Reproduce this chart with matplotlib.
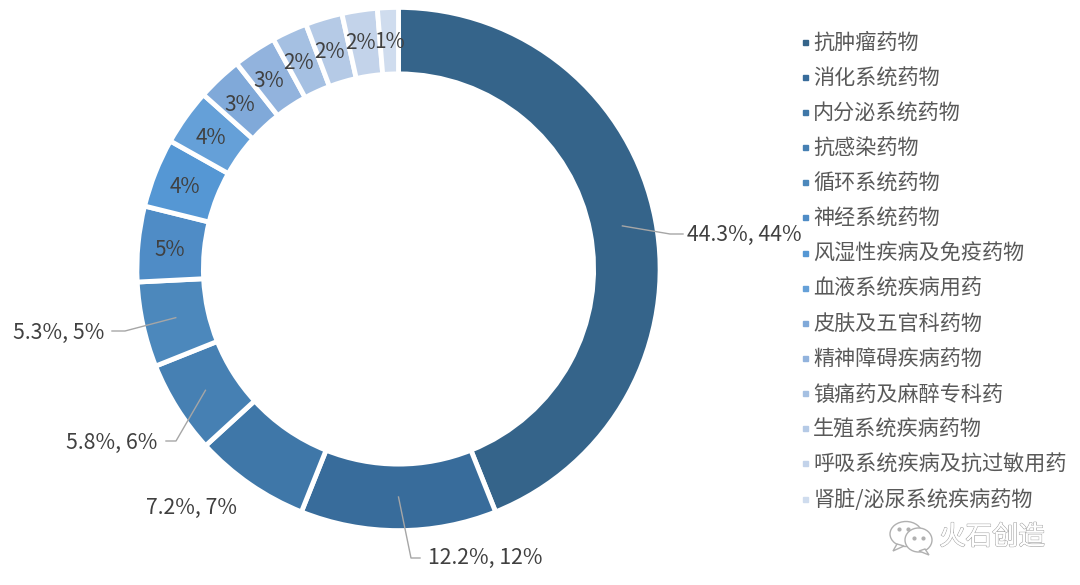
import numpy as np
import matplotlib
matplotlib.use('Agg')
import matplotlib.pyplot as plt
import matplotlib.patheffects as pe
from matplotlib.lines import Line2D
from matplotlib.patches import Ellipse, Polygon

plt.rcParams['font.family'] = ['Noto Sans CJK SC', 'DejaVu Sans']

categories = ['抗肿瘤药物', '消化系统药物', '内分泌系统药物', '抗感染药物', '循环系统药物', '神经系统药物',
              '风湿性疾病及免疫药物', '血液系统疾病用药', '皮肤及五官科药物', '精神障碍疾病药物',
              '镇痛药及麻醉专科药', '生殖系统疾病药物', '呼吸系统疾病及抗过敏用药', '肾脏/泌尿系统疾病药物']
values = [44.3, 12.2, 7.2, 5.8, 5.3, 4.7, 4.3, 3.5, 2.8, 2.7, 2.2, 2.3, 2.2, 1.3]
labels = ['44.3%, 44%', '12.2%, 12%', '7.2%, 7%', '5.8%, 6%', '5.3%, 5%', '5%', '4%', '4%',
          '3%', '3%', '2%', '2%', '2%', '1%']
colors = ['#35648a', '#386c9b', '#3f77a8', '#4680b3', '#4c88bc', '#4f8cc6', '#5597d4', '#65a0d8',
          '#80a9d9', '#92b3dd', '#a5c0e2', '#b5cae6', '#c3d3ea', '#cfdcee']

TEXT = '#404040'
W, H = 1080, 585
CX, CY, R = 398.5, 269, 261.6


def py(y):
    # picture pixels run downwards, the axes upwards
    return H - y


fig = plt.figure(figsize=(W / 100, H / 100), dpi=100)
ax = fig.add_axes([0, 0, 1, 1])

wedges, _ = ax.pie(values, startangle=90, counterclock=False, center=(CX, py(CY)), radius=R,
                   colors=colors, wedgeprops=dict(width=66.5, edgecolor='white', linewidth=3.5))
ax.set_xlim(0, W)
ax.set_ylim(0, H)
ax.set_aspect('equal')
ax.axis('off')

# labels inside the ring, first five are handled below with leader lines
inner_pos = [(170, 250), (185, 187), (211, 138), (240, 105), (269, 81),
             (299, 63), (330, 52), (361, 43), (389, 42)]
for lab, (x, y) in zip(labels[5:], inner_pos):
    ax.text(x, py(y), lab, fontsize=15, color=TEXT, ha='center', va='center')

# outer labels: text x, text y, alignment, elbow point, end of leader
outer = [
    (687, 235, 'left', (670, 234), (683, 234)),
    (428, 558, 'left', (411, 558), (420, 558)),
    (192, 508, 'center', None, None),
    (157, 443, 'right', (176, 441), (166, 441)),
    (104, 333, 'right', (125, 331), (112, 331)),
]
for i, (x, y, ha, elbow, end) in enumerate(outer):
    ax.text(x, py(y), labels[i], fontsize=15.3, color=TEXT, ha=ha, va='center')
    if elbow is None:
        continue
    w = wedges[i]
    ang = np.deg2rad((w.theta1 + w.theta2) / 2)
    sx = CX + 228 * np.cos(ang)
    sy = CY - 228 * np.sin(ang)
    ax.plot([sx, elbow[0], end[0]], [py(sy), py(elbow[1]), py(end[1])], color='#a6a6a6', lw=1)

handles = [Line2D([], [], linestyle='none', marker='s', markersize=3.6, color=c) for c in colors]
ax.legend(handles, categories, loc='upper left', bbox_to_anchor=(803 / W, 1 - 32 / H),
          frameon=False, fontsize=15.2, labelcolor='#595959', labelspacing=0.623, handlelength=0.2,
          handletextpad=0.29, borderpad=0, borderaxespad=0)

# watermark
wm = '#b0b0b0'
for (x, y, a, b) in [(906, 534, 32, 25), (918.5, 540, 27, 24)]:
    ax.add_patch(Ellipse((x, py(y)), a, b, fc='white', ec=wm, lw=1, zorder=3))
ax.add_patch(Polygon([(897, py(544)), (893, py(551)), (904, py(546))], fc='white', ec=wm, lw=1, zorder=3))
ax.add_patch(Polygon([(925, py(549)), (929, py(555)), (919, py(551))], fc='white', ec=wm, lw=1, zorder=3))
ax.plot([899, 908, 914, 923], [py(529), py(529), py(538), py(538)], ls='none', marker='o', ms=2, color=wm, zorder=4)
ax.text(992, py(537), '火石创造', fontsize=19, color='white', ha='center', va='center', zorder=4,
        path_effects=[pe.withStroke(linewidth=1, foreground='#a8a8a8'), pe.Normal()])

fig.savefig('out.png', dpi=100, facecolor='white')
